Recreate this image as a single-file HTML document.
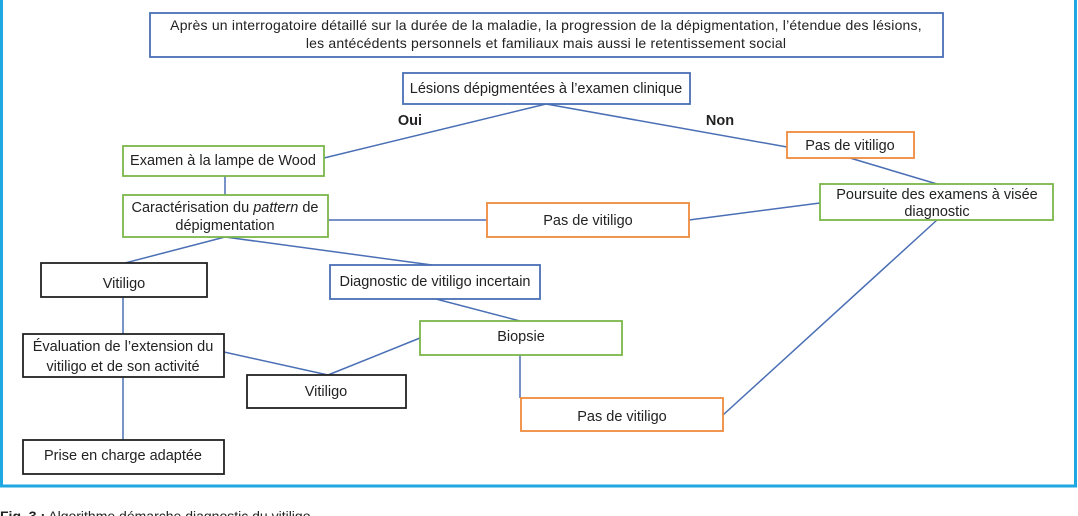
<!DOCTYPE html>
<html><head><meta charset="utf-8"><style>
html,body{margin:0;padding:0;background:#fff;width:1078px;height:516px;overflow:hidden}
svg text{font-family:"Liberation Sans",sans-serif;font-size:14.5px;fill:#222}
</style></head><body>
<svg width="1078" height="516" viewBox="0 0 1078 516" xmlns="http://www.w3.org/2000/svg">
<rect x="1.5" y="-5" width="1074" height="491" fill="none" stroke="#1ea7e1" stroke-width="3"/>
<g stroke="#4a6fb5" stroke-width="1.5" fill="none">
<line x1="546" y1="104" x2="324" y2="158"/>
<line x1="546" y1="104" x2="787" y2="147"/>
<line x1="850" y1="158" x2="937" y2="184"/>
<line x1="328" y1="220" x2="487" y2="220"/>
<line x1="689" y1="220" x2="820" y2="203"/>
<line x1="225" y1="176" x2="225" y2="195"/>
<line x1="225" y1="237" x2="125" y2="263"/>
<line x1="225" y1="237" x2="432" y2="265"/>
<line x1="123" y1="297" x2="123" y2="334"/>
<line x1="123" y1="377" x2="123" y2="440"/>
<line x1="224" y1="352" x2="328" y2="375"/>
<line x1="420" y1="338" x2="328" y2="375"/>
<line x1="436" y1="299" x2="520" y2="321"/>
<line x1="520" y1="355" x2="520" y2="398"/>
<line x1="723" y1="415" x2="937" y2="220"/>
</g>
<g stroke-width="1.8" fill="#fff">
<rect x="150" y="13" width="793" height="44" stroke="#4a6fb5"/>
<rect x="403" y="73" width="287" height="31" stroke="#4a6fb5"/>
<rect x="123" y="146" width="201" height="30" stroke="#7ab648"/>
<rect x="123" y="195" width="205" height="42" stroke="#7ab648"/>
<rect x="787" y="132" width="127" height="26" stroke="#ee8a3c"/>
<rect x="820" y="184" width="233" height="36" stroke="#7ab648"/>
<rect x="487" y="203" width="202" height="34" stroke="#ee8a3c"/>
<rect x="41" y="263" width="166" height="34" stroke="#222"/>
<rect x="330" y="265" width="210" height="34" stroke="#4a6fb5"/>
<rect x="420" y="321" width="202" height="34" stroke="#7ab648"/>
<rect x="23" y="334" width="201" height="43" stroke="#222"/>
<rect x="247" y="375" width="159" height="33" stroke="#222"/>
<rect x="521" y="398" width="202" height="33" stroke="#ee8a3c"/>
<rect x="23" y="440" width="201" height="34" stroke="#222"/>
</g>
<g text-anchor="middle">
<text x="546" y="30" style="font-size:14px" letter-spacing="0.2">Après un interrogatoire détaillé sur la durée de la maladie, la progression de la dépigmentation, l’étendue des lésions,</text>
<text x="546" y="48" style="font-size:14px" letter-spacing="0.2">les antécédents personnels et familiaux mais aussi le retentissement social</text>
<text x="546" y="93">Lésions dépigmentées à l’examen clinique</text>
<text x="223" y="165">Examen à la lampe de Wood</text>
<text x="225" y="212">Caractérisation du <tspan font-style="italic">pattern</tspan> de</text>
<text x="225" y="230">dépigmentation</text>
<text x="850" y="150">Pas de vitiligo</text>
<text x="937" y="199">Poursuite des examens à visée</text>
<text x="937" y="216">diagnostic</text>
<text x="588" y="225">Pas de vitiligo</text>
<text x="124" y="288">Vitiligo</text>
<text x="435" y="286">Diagnostic de vitiligo incertain</text>
<text x="521" y="341">Biopsie</text>
<text x="123" y="351">Évaluation de l’extension du</text>
<text x="123" y="371">vitiligo et de son activité</text>
<text x="326" y="396">Vitiligo</text>
<text x="622" y="421">Pas de vitiligo</text>
<text x="123" y="460">Prise en charge adaptée</text>
<text x="410" y="125" font-weight="bold">Oui</text>
<text x="720" y="125" font-weight="bold">Non</text>
</g>
<text x="0" y="521" style="font-size:14px"><tspan font-weight="bold">Fig. 3 :</tspan> Algorithme démarche diagnostic du vitiligo</text>
</svg>
</body></html>
